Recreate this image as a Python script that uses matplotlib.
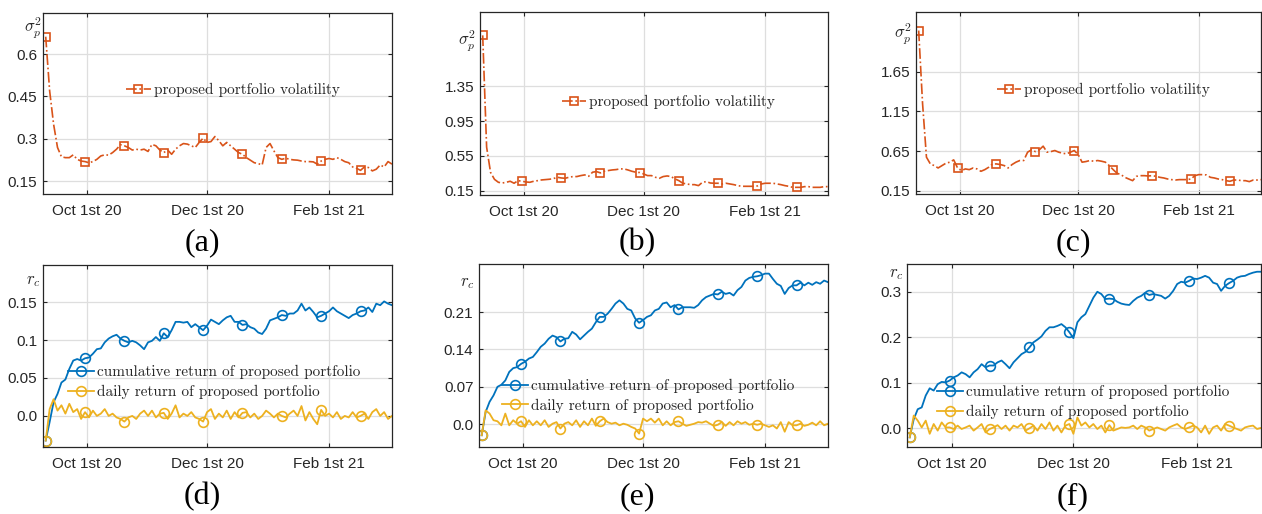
import numpy as np
import matplotlib
matplotlib.use("Agg")
import matplotlib.pyplot as plt
import matplotlib.dates as mdates
from matplotlib.font_manager import FontProperties

plt.rcParams['mathtext.fontset'] = 'cm'

# ---------------- data ----------------
dates = np.arange(np.datetime64('2020-09-10'), np.datetime64('2021-03-06'), 2)
date_ticks = [np.datetime64('2020-10-01'), np.datetime64('2020-12-01'), np.datetime64('2021-02-01')]
date_tick_labels = ['Oct 1st 20', 'Dec 1st 20', 'Feb 1st 21']

vol_a = [0.662,0.47,0.352,0.269,0.236,0.233,0.233,0.243,0.227,0.221,
         0.219,0.215,0.219,0.227,0.239,0.243,0.242,0.251,0.263,0.279,
         0.275,0.269,0.26,0.263,0.26,0.263,0.255,0.28,0.275,0.26,
         0.251,0.26,0.245,0.263,0.275,0.283,0.281,0.275,0.269,0.287,
         0.302,0.287,0.29,0.308,0.293,0.275,0.287,0.275,0.263,0.251,
         0.245,0.233,0.224,0.215,0.212,0.207,0.269,0.283,0.257,0.233,
         0.227,0.231,0.227,0.225,0.224,0.221,0.219,0.219,0.218,0.21,
         0.221,0.227,0.23,0.227,0.233,0.227,0.219,0.215,0.2,0.195,
         0.188,0.2,0.198,0.186,0.192,0.207,0.2,0.219,0.21]
vol_b = [1.935,0.65,0.36,0.28,0.246,0.238,0.246,0.258,0.235,0.265,
         0.258,0.25,0.246,0.258,0.265,0.273,0.277,0.281,0.288,0.304,
         0.296,0.292,0.304,0.312,0.312,0.323,0.331,0.315,0.362,0.369,
         0.354,0.373,0.381,0.388,0.392,0.4,0.4,0.388,0.373,0.362,
         0.358,0.342,0.323,0.323,0.304,0.292,0.312,0.319,0.312,0.285,
         0.265,0.235,0.227,0.219,0.219,0.208,0.246,0.254,0.238,0.235,
         0.235,0.227,0.235,0.227,0.219,0.208,0.2,0.2,0.2,0.2,
         0.204,0.227,0.235,0.235,0.235,0.227,0.219,0.208,0.2,0.188,
         0.188,0.188,0.196,0.196,0.188,0.188,0.188,0.196,0.196]
vol_c = [2.17,1.25,0.573,0.488,0.467,0.437,0.467,0.497,0.51,0.539,
         0.437,0.404,0.425,0.416,0.437,0.425,0.395,0.416,0.446,0.488,
         0.488,0.48,0.467,0.437,0.48,0.51,0.531,0.531,0.636,0.666,
         0.644,0.666,0.712,0.636,0.644,0.657,0.636,0.623,0.615,0.636,
         0.657,0.606,0.51,0.518,0.531,0.522,0.531,0.522,0.51,0.467,
         0.416,0.37,0.353,0.319,0.298,0.277,0.332,0.34,0.34,0.336,
         0.34,0.332,0.319,0.311,0.298,0.29,0.285,0.29,0.29,0.29,
         0.298,0.34,0.353,0.353,0.349,0.319,0.311,0.298,0.29,0.277,
         0.269,0.285,0.285,0.277,0.277,0.265,0.285,0.285,0.29]

cum_d = [-0.0325,-0.008,0.018,0.029,0.044,0.048,0.062,0.073,0.075,0.073,
         0.076,0.077,0.082,0.088,0.089,0.097,0.102,0.105,0.107,0.102,
         0.099,0.097,0.099,0.097,0.093,0.088,0.097,0.099,0.104,0.099,
         0.109,0.104,0.113,0.124,0.124,0.123,0.124,0.117,0.121,0.117,
         0.113,0.119,0.127,0.124,0.121,0.126,0.13,0.132,0.124,0.124,
         0.12,0.121,0.117,0.115,0.11,0.108,0.115,0.126,0.128,0.13,
         0.133,0.132,0.135,0.135,0.139,0.148,0.139,0.143,0.137,0.13,
         0.132,0.135,0.138,0.143,0.138,0.135,0.132,0.129,0.133,0.135,
         0.138,0.139,0.143,0.137,0.148,0.146,0.151,0.148,0.146]
daily_d = [-0.0325,0.009,0.022,0.007,0.014,0.003,0.016,0.005,0.009,-0.004,
           0.005,-0.002,0.007,0.0,0.003,0.009,0.0,0.003,-0.002,-0.004,
           -0.0075,-0.002,0.0,-0.004,0.003,0.007,0.0,0.007,-0.002,0.003,
           0.004,-0.004,0.003,0.014,-0.002,0.003,0.0,0.005,-0.002,-0.004,
           -0.0075,0.005,0.009,-0.004,0.003,-0.002,0.007,-0.004,0.005,-0.002,
           0.004,0.005,-0.002,0.003,-0.004,0.0,0.007,0.003,-0.002,0.003,
           0.0,-0.002,0.003,0.007,0.0,0.013,-0.006,0.005,-0.004,-0.011,
           0.008,0.0,0.003,-0.002,0.005,-0.004,0.0,-0.002,0.005,-0.002,
           0.0,0.003,-0.004,0.005,0.009,0.0,0.005,-0.004,0.0]
cum_e = [-0.0206,0.023,0.042,0.054,0.07,0.074,0.082,0.098,0.105,0.107,
         0.113,0.117,0.123,0.126,0.135,0.145,0.151,0.16,0.166,0.163,
         0.155,0.16,0.161,0.173,0.168,0.159,0.166,0.173,0.179,0.191,
         0.201,0.201,0.207,0.216,0.226,0.232,0.226,0.216,0.213,0.198,
         0.19,0.195,0.201,0.204,0.213,0.216,0.226,0.228,0.219,0.223,
         0.215,0.219,0.219,0.219,0.218,0.223,0.232,0.238,0.241,0.244,
         0.243,0.248,0.244,0.246,0.241,0.251,0.257,0.269,0.274,0.276,
         0.277,0.279,0.282,0.282,0.272,0.263,0.259,0.244,0.255,0.26,
         0.26,0.265,0.26,0.265,0.261,0.266,0.263,0.269,0.266]
daily_e = [-0.0206,0.026,0.02,0.0075,0.0056,-0.002,0.02,-0.002,0.0075,0.001,
           0.0056,-0.005,0.0075,-0.002,0.0056,-0.002,0.0075,-0.005,0.001,0.004,
           -0.008,0.001,0.004,-0.002,0.0075,-0.005,0.0056,-0.002,0.0106,-0.003,
           0.0056,0.0106,0.004,0.001,0.003,-0.002,0.001,-0.001,-0.005,-0.008,
           -0.0175,0.0106,0.0056,0.0106,0.003,0.0106,-0.002,0.0056,-0.002,0.004,
           0.0056,0.001,-0.003,-0.001,0.001,0.004,0.003,0.0056,0.001,-0.003,
           -0.001,0.004,-0.003,0.004,-0.002,0.0056,0.001,0.004,-0.001,0.001,
           -0.001,0.001,-0.002,-0.005,-0.002,-0.008,0.004,-0.014,0.004,-0.002,
           -0.002,0.001,-0.003,-0.001,0.003,-0.002,0.0056,-0.002,0.001]
cum_f = [-0.0198,0.02,0.042,0.046,0.072,0.088,0.083,0.097,0.102,0.101,
         0.105,0.112,0.116,0.123,0.119,0.112,0.123,0.13,0.141,0.134,
         0.138,0.138,0.145,0.149,0.141,0.132,0.145,0.154,0.163,0.168,
         0.178,0.189,0.195,0.202,0.214,0.222,0.222,0.225,0.229,0.222,
         0.211,0.198,0.233,0.244,0.251,0.269,0.287,0.3,0.295,0.284,
         0.285,0.284,0.278,0.274,0.272,0.271,0.28,0.287,0.291,0.298,
         0.293,0.295,0.293,0.291,0.285,0.291,0.302,0.317,0.322,0.32,
         0.324,0.329,0.328,0.331,0.335,0.331,0.32,0.317,0.302,0.313,
         0.319,0.324,0.331,0.334,0.335,0.339,0.342,0.344,0.344]
daily_f = [-0.0198,0.028,0.017,0.002,0.017,-0.012,0.0095,-0.005,0.013,0.002,
           0.002,-0.0015,0.006,-0.0015,0.002,0.006,-0.005,0.002,0.0095,-0.009,
           -0.0015,0.002,0.007,-0.0015,0.006,-0.005,0.006,0.002,0.0095,-0.005,
           0.0,0.006,-0.005,0.0095,-0.0015,0.013,-0.005,0.006,-0.009,0.006,
           0.0095,-0.012,0.024,0.006,0.013,0.002,0.0095,-0.0015,0.006,-0.009,
           0.007,-0.005,-0.0015,0.002,0.001,0.002,0.006,-0.0015,0.006,0.002,
           -0.005,-0.0015,0.002,-0.0015,-0.005,0.002,0.006,0.0095,0.002,-0.0015,
           0.002,0.006,0.002,-0.009,0.006,-0.012,0.002,0.006,-0.005,0.0095,
           0.006,0.002,-0.0015,-0.005,0.002,0.0045,0.006,-0.0015,0.001]

yticks_a = [0.15, 0.3, 0.45, 0.6];   ytl_a = ['0.15', '0.3', '0.45', '0.6']
yticks_b = [0.15, 0.55, 0.95, 1.35]; ytl_b = ['0.15', '0.55', '0.95', '1.35']
yticks_c = [0.15, 0.65, 1.15, 1.65]; ytl_c = ['0.15', '0.65', '1.15', '1.65']
yticks_d = [0.0, 0.05, 0.1, 0.15];   ytl_d = ['0.0', '0.05', '0.1', '0.15']
yticks_e = [0.0, 0.07, 0.14, 0.21];  ytl_e = ['0.0', '0.07', '0.14', '0.21']
yticks_f = [0.0, 0.1, 0.2, 0.3];     ytl_f = ['0.0', '0.1', '0.2', '0.3']

vol_label = 'proposed portfolio volatility'
cum_label = 'cumulative return of proposed portfolio'
daily_label = 'daily return of proposed portfolio'
panel_labels = ['(a)', '(b)', '(c)', '(d)', '(e)', '(f)']

# ---------------- style ----------------
C_VOL = '#D95319'
C_CUM = '#0072BD'
C_DAY = '#EDB120'
TXT = '#262626'
W, H = 1262, 514

fig = plt.figure(figsize=(W / 100, H / 100), dpi=100)

def px_axes(l, r, t, b):
    return fig.add_axes([l / W, 1 - b / H, (r - l) / W, (b - t) / H])

leg_font = FontProperties(family='cmr10', size=11)
x_left = np.datetime64('2020-09-08T15:00')
x_right = np.datetime64('2021-03-05')

def style(ax, yt, ytl, ylim):
    ax.set_xlim(x_left, x_right)
    ax.set_ylim(*ylim)
    ax.set_xticks(date_ticks)
    ax.set_xticklabels(date_tick_labels)
    ax.set_yticks(yt)
    ax.set_yticklabels(ytl)
    ax.grid(True, color='#dedede', linewidth=0.9)
    ax.set_axisbelow(True)
    ax.tick_params(direction='in', length=3, width=0.8, colors=TXT,
                   top=True, right=True, labelsize=11)
    ax.tick_params(axis='x', pad=7)
    ax.tick_params(axis='y', pad=4)
    for lab in ax.get_xticklabels() + ax.get_yticklabels():
        lab.set_family('Liberation Sans')
    for s in ax.spines.values():
        s.set_color(TXT)
        s.set_linewidth(0.9)

# top row
top_specs = [
    ((43, 392, 13.3, 194.3), vol_a, yticks_a, ytl_a, (0.103, 0.745), (0.238, 0.576), (-0.029, 0.924)),
    ((480, 828, 12.3, 195), vol_b, yticks_b, ytl_b, (0.10, 2.2), (0.235, 0.51), (-0.038, 0.847)),
    ((916, 1261, 12.3, 194.3), vol_c, yticks_c, ytl_c, (0.105, 2.40), (0.234, 0.573), (-0.038, 0.886)),
]
for box, vol, yt, ytl, ylim, legpos, ylpos in top_specs:
    ax = px_axes(*box)
    ax.plot(dates, vol, color=C_VOL, linestyle='-.', linewidth=1.2,
            marker='s', markevery=10, markersize=6, markerfacecolor='none',
            markeredgewidth=1.2, label=vol_label)
    style(ax, yt, ytl, ylim)
    ax.legend(loc='center left', bbox_to_anchor=legpos, frameon=False,
              borderaxespad=0, borderpad=0, handlelength=1.6, handletextpad=0.2,
              numpoints=1, prop=leg_font, labelcolor=TXT)
    ax.text(ylpos[0], ylpos[1], r'$\sigma_p^2$', transform=ax.transAxes,
            ha='center', va='center', fontsize=12, color=TXT)

# bottom row
bot_specs = [
    ((43, 392, 265, 447), cum_d, daily_d, yticks_d, ytl_d, (-0.041, 0.199), (0.072, 0.357), (-0.029, 0.918)),
    ((479, 828, 264, 447), cum_e, daily_e, yticks_e, ytl_e, (-0.0426, 0.30), (0.065, 0.279), (-0.035, 0.903)),
    ((907, 1261, 264, 447), cum_f, daily_f, yticks_f, ytl_f, (-0.041, 0.361), (0.084, 0.246), (-0.029, 0.949)),
]
for box, cum, day, yt, ytl, ylim, legpos, ylpos in bot_specs:
    ax = px_axes(*box)
    ax.plot(dates, cum, color=C_CUM, linewidth=1.3, marker='o', markevery=10,
            markersize=7, markerfacecolor='none', markeredgewidth=1.2, label=cum_label)
    ax.plot(dates, day, color=C_DAY, linewidth=1.3, marker='o', markevery=10,
            markersize=7, markerfacecolor='none', markeredgewidth=1.2, label=daily_label)
    style(ax, yt, ytl, ylim)
    ax.legend(loc='center left', bbox_to_anchor=legpos, frameon=False,
              borderaxespad=0, borderpad=0, handlelength=1.7, handletextpad=0.2,
              labelspacing=0.35, numpoints=1, prop=leg_font, labelcolor=TXT)
    ax.text(ylpos[0], ylpos[1], r'$r_c$', transform=ax.transAxes,
            ha='center', va='center', fontsize=12, color=TXT)

# panel labels
label_pos = [(202, 243), (637, 243), (1073, 243), (202, 497), (637, 497), (1073, 497)]
for lab, (x, y) in zip(panel_labels, label_pos):
    fig.text(x / W, 1 - y / H, lab, ha='center', va='center',
             family='Liberation Serif', fontsize=23, color='black')

fig.savefig('out.png', dpi=100)
